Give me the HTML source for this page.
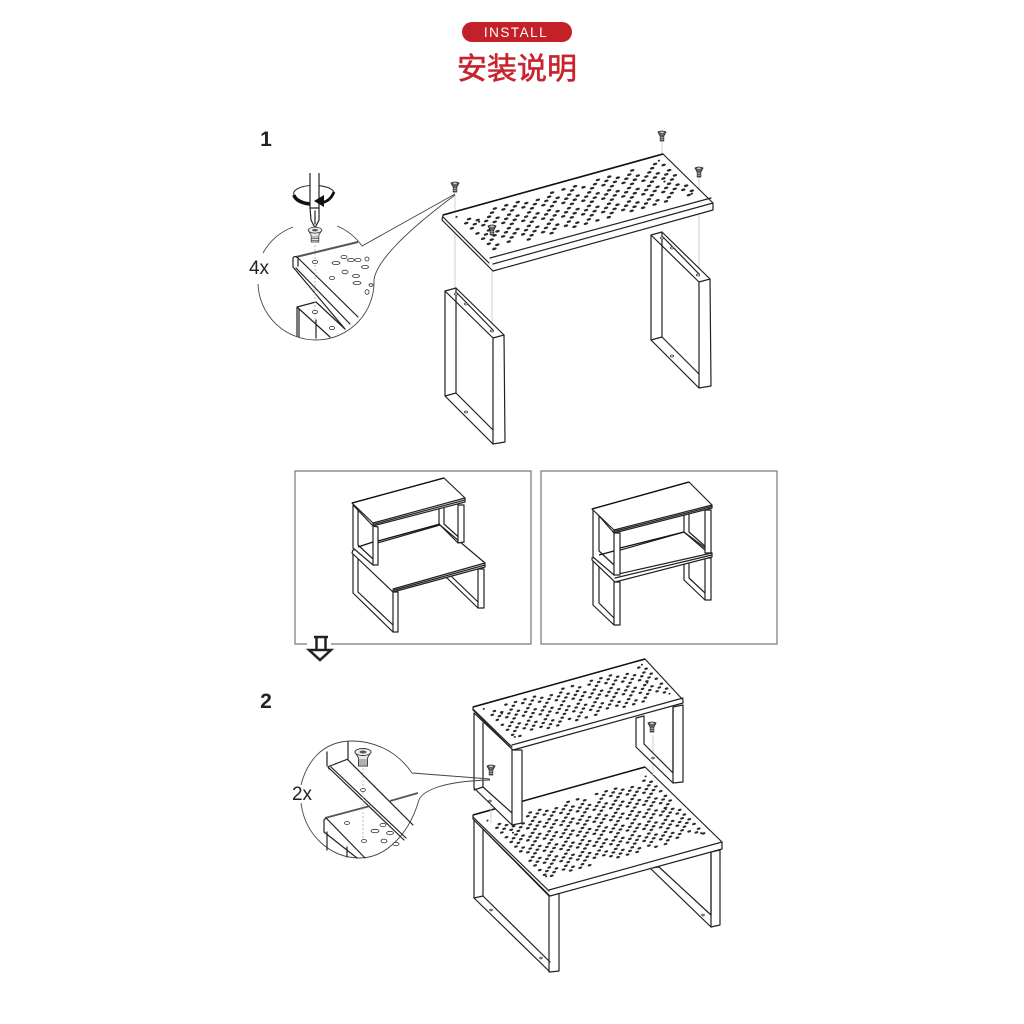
<!DOCTYPE html>
<html><head><meta charset="utf-8"><style>
html,body{margin:0;padding:0;background:#fff}
svg{display:block}
text{font-family:"Liberation Sans","Noto Sans CJK SC",sans-serif}
.l{fill:none;stroke:#222;stroke-width:1.2;stroke-linejoin:round;stroke-linecap:round}
.f{fill:#fff;stroke:#222;stroke-width:1.2;stroke-linejoin:round}
.g{fill:none;stroke:#ccc;stroke-width:.9}
.c{fill:none;stroke:#444;stroke-width:.9}
.h{fill:#fff;stroke:#333;stroke-width:.8}
.d{fill:none;stroke:#aaa;stroke-width:.8;stroke-dasharray:2 2}
</style></head><body>
<svg xmlns="http://www.w3.org/2000/svg" width="1024" height="1024" viewBox="0 0 1024 1024">
<defs>
<g id="sc"><path d="M-4 -3 Q0 -5 4 -3 L1.8 1 L1.8 6 L-1.8 6 L-1.8 1 Z" fill="#666" stroke="#222" stroke-width=".8"/><path d="M-1.8 2.5H1.8M-1.8 4.5H1.8" stroke="#ccc" stroke-width=".6"/><ellipse cx="0" cy="-2.800" rx="1.800" ry=".7" fill="#ddd"/></g>
<g id="big"><path d="M-8 -1 L-4.500 5 V13 H4.500 V5 L8 -1Z" fill="#e8e8e8" stroke="#333" stroke-width=".9"/><ellipse cx="0" cy="-1" rx="8" ry="3.500" fill="#eee" stroke="#333" stroke-width=".9"/><ellipse cx="0" cy="-1" rx="3.500" ry="1.500" fill="#555"/><path d="M-4.500 7H4.500M-4.500 9H4.500M-4.500 11H4.500" stroke="#555" stroke-width=".8"/></g>
<g id="leg">
<path class="f" d="M445 291L456 288L504 335L505 442L493 444L445 396Z"/>
<path class="l" d="M456 288V393M445 396L456 393L493 430M493 338V444M445 291L493 338L504 335M457 293L493 330"/>
<ellipse class="h" cx="456" cy="294" rx="1.6" ry="1"/><ellipse class="h" cx="466" cy="304" rx="1.6" ry="1"/><ellipse class="h" cx="492" cy="331" rx="1.6" ry="1"/><ellipse class="h" cx="466" cy="412" rx="1.6" ry="1"/>
</g>
</defs>
<rect width="1024" height="1024" fill="#fff"/>

<rect x="462" y="22" width="110" height="20" rx="10" fill="#c4202a"/>
<text x="516" y="37" font-size="13.500" fill="#fff" text-anchor="middle" letter-spacing="1.500">INSTALL</text>
<text x="517" y="79" font-size="30" fill="#c8242d" stroke="#c8242d" stroke-width=".6" text-anchor="middle">安装说明</text>

<text x="266" y="146" font-size="21" font-weight="bold" fill="#222" text-anchor="middle">1</text>
<text x="266" y="708" font-size="21" font-weight="bold" fill="#222" text-anchor="middle">2</text>
<text x="259" y="274" font-size="19" fill="#222" text-anchor="middle">4x</text>
<text x="302" y="800" font-size="19" fill="#222" text-anchor="middle">2x</text>

<!-- Step 1 main -->
<path class="g" d="M455 195V291M492 235V338M662 142V156M699 178V280"/>
<use href="#leg"/>
<use href="#leg" transform="translate(206,-56)"/>
<path class="f" d="M443 215L663 154L713 203V210L493 271L488 266L442 220Z"/>
<path class="l" d="M493 264L713 203M490 258L711 198M443 217L489 263"/>
<path d="M443 215L663 154" stroke="#111" stroke-width="1.6" fill="none"/>
<g id="p1"></g>
<use href="#sc" x="455" y="186"/><use href="#sc" x="662" y="135"/><use href="#sc" x="699" y="171"/><use href="#sc" x="492" y="229"/>

<!-- Detail 1 -->
<path class="c" d="M293 227A58 58 0 0 0 263 253M258 284A56 56 0 0 0 374 280C376 262 405 232 455 195M337 226Q352 232 362 246L455 194"/>
<path d="M296 257L358 242" stroke="#555" stroke-width="2" fill="none"/>
<path class="l" d="M293 258Q295 255 298 258L358 317M293 258V267L345 329M298 258V266M296 268L350 324"/>
<path class="l" d="M297 307L316 302L345 329M297 307L330 337M297 307V336M299 309V337M316 320V338"/>
<path class="d" d="M315 245V325"/>
<g class="h"><ellipse cx="315" cy="262" rx="2.6" ry="1.6"/><ellipse cx="315" cy="312" rx="2.6" ry="1.6"/><ellipse cx="332" cy="328" rx="2.6" ry="1.6"/><ellipse cx="332" cy="278" rx="2.6" ry="1.6"/><ellipse cx="336" cy="263" rx="4" ry="1.6"/><ellipse cx="344" cy="257" rx="3" ry="1.6"/><ellipse cx="351" cy="260" rx="3.500" ry="1.6"/><ellipse cx="358" cy="260" rx="3" ry="1.600"/><ellipse cx="365" cy="267" rx="3.500" ry="1.600"/><ellipse cx="345" cy="272" rx="3" ry="1.800"/><ellipse cx="356" cy="276" rx="3.500" ry="1.600"/><ellipse cx="357" cy="283" rx="4" ry="1.600"/><ellipse cx="367" cy="259" rx="2" ry="2"/><ellipse cx="371" cy="285" rx="2" ry="1.300"/><ellipse cx="367" cy="292" rx="2" ry="2.300"/></g>
<!-- screwdriver -->
<path d="M294 195A20 8 0 0 1 334 192" fill="none" stroke="#333" stroke-width="1.100"/>
<path d="M294 195C295 200 303 204 312 204" fill="none" stroke="#111" stroke-width="3.500"/>
<path d="M310 173V208L311 220L315 228L319 220L319 208V173" fill="#fff" stroke="#222" stroke-width="1.200"/>
<path class="l" d="M315 211V224M311 208H319"/>
<path d="M320 203Q330 202 334 192" fill="none" stroke="#111" stroke-width="2.800"/>
<path d="M314 201L324 195V207Z" fill="#111"/>
<g transform="translate(315,231) scale(.85)"><use href="#big"/></g>

<!-- Frames -->
<path d="M307 644H295V471H531V644H331" fill="none" stroke="#777" stroke-width="1.2"/>
<rect x="541" y="471" width="236" height="173" fill="none" stroke="#777" stroke-width="1.2"/>
<path d="M314 637H328M316.500 637V650M325.500 637V650" stroke="#222" stroke-width="2.500" fill="none"/>
<path d="M309 650H331L320 660Z" fill="#fff" stroke="#222" stroke-width="2.500"/>

<!-- Scene A -->
<g>
<!-- lower unit -->
<path class="l" d="M447 578L478 608M452 577L478 602"/>
<path class="f" d="M478 569H484V608H478Z"/>
<path class="f" d="M353 552V593L393 632H398V592L393 592Z"/>
<path class="l" d="M358 558V592L393 625M393 592V632"/>
<path class="f" d="M353 550L440 525L485 563V567L393 592L352 553Z"/>
<path class="l" d="M393 589L485 563M393 590.500L485 565"/>
<!-- upper unit -->
<path class="l" d="M439 509V524L458 543M444 508V524L464 542"/>
<path class="f" d="M458 505H464V542L458 543Z"/>
<path class="f" d="M353 505V548L373 565H378V527L373 526Z"/>
<path class="l" d="M358 510V545L373 559M373 526V565"/>
<path d="M378 541L440 524M358 547L373 542" stroke="#111" stroke-width="1.300" fill="none"/>
<path class="f" d="M352 503L444 478L465 498V502L373 526V523Z"/>
<path class="l" d="M373 523L465 498M373 524.500L465 500"/>
<path d="M352 503L444 478" stroke="#111" stroke-width="1.300" fill="none"/>
</g>

<!-- Scene B -->
<g>
<!-- lower unit -->
<path class="l" d="M684 562V580L705 600M689 562V578L705 593"/>
<path class="f" d="M705 558H711V600H705Z"/>
<path class="f" d="M593 561V605L614 625H620V582H615Z"/>
<path class="l" d="M599 567V603L614 618M614 582V625"/>
<path class="f" d="M592 558L684 532L712 553V557L615 582L592 560Z"/>
<path class="l" d="M614 575L712 553M615 578L712 555"/>
<!-- upper unit -->
<path class="l" d="M684 515V532L705 550M689 514V532L706 547"/>
<path class="f" d="M705 510H711V553H705Z"/>
<path class="f" d="M593 509V557L614 575H620V533H614Z"/>
<path class="l" d="M599 515V551L614 565M614 533V575"/>
<path d="M620 548L684 532M599 555L614 551" stroke="#111" stroke-width="1.300" fill="none"/>
<path class="f" d="M592 509L689 482L712 505V508L614 533V530Z"/>
<path class="l" d="M614 530L712 505M614 531.500L712 506.500"/>
<path d="M592 509L689 482" stroke="#111" stroke-width="1.300" fill="none"/>
</g>

<!-- Step 2 main -->
<g>
<!-- lower unit -->
<path class="f" d="M650 868L711 927L720 925V850L711 852V915L659 867Z"/>
<path class="l" d="M711 852V927"/>
<path class="f" d="M474 820V898L550 972L559 971V893L549 896Z"/>
<path class="l" d="M483 828V896L550 962M549 895V972M474 898L483 896"/>
<path class="f" d="M473 815L645 767L722 842V849L550 896L473 819Z"/>
<path class="l" d="M549 890L722 842M473 817L549 891"/>
<path d="M473 815L645 767" stroke="#111" stroke-width="1.500" fill="none"/>
<g id="p3"></g>
<ellipse class="h" cx="491" cy="910" rx="1.300" ry=".9"/><ellipse class="h" cx="541" cy="958" rx="1.300" ry=".9"/><ellipse class="h" cx="703" cy="915" rx="1.300" ry=".9"/>
<!-- upper unit -->
<path class="g" d="M491 785V823M653 735V775"/>
<path class="f" d="M636 718L644 716V744L673 773V707L683 705V782L673 783L636 747Z"/>
<path class="l" d="M673 707V783"/>
<path class="f" d="M474 713V788L512 825L522 823V750L513 750L474 713Z"/>
<path class="l" d="M483 723V787L512 813M512 748V825M474 790L483 787"/>
<path class="f" d="M473 707L645 659L683 700V703L513 750L473 710Z"/>
<path class="l" d="M512 745L683 698M473 709L512 747"/>
<path d="M473 707L645 659" stroke="#111" stroke-width="1.500" fill="none"/>
<g id="p2"></g>
<ellipse class="h" cx="490" cy="801" rx="1.300" ry=".9"/><ellipse class="h" cx="653" cy="758" rx="1.300" ry=".9"/>
<use href="#sc" x="491" y="769"/><use href="#sc" x="652" y="726"/>
</g>

<!-- Detail 2 -->
<path class="c" d="M412 773C395 748 370 741 352 741C320 741 306 765 301 785M301 803C305 835 330 858 360 858C385 858 408 835 418 803C420 790 445 781 490 780M412 773L490 779"/>
<path class="l" d="M327 752V766M348 742V760M330 766L348 759M328 767L404 840M331 767L406 838M348 760L413 825M329 769Q328 766 330 766"/>
<path d="M325 818L370 806M390 801L418 793" stroke="#555" stroke-width="1.800" fill="none"/>
<path class="l" d="M324 820Q326 817 328 820L365 858M324 820V832L357 858M327 832V850M347 847V857"/>
<path class="d" d="M363 768V840"/>
<g class="h"><ellipse cx="363" cy="790" rx="2.500" ry="1.500"/><ellipse cx="347" cy="823" rx="2.500" ry="1.500"/><ellipse cx="364" cy="841" rx="2.500" ry="1.500"/><ellipse cx="375" cy="831" rx="4" ry="1.700"/><ellipse cx="383" cy="825" rx="3" ry="1.700"/><ellipse cx="390" cy="833" rx="3.500" ry="1.700"/><ellipse cx="384" cy="841" rx="3" ry="1.900"/><ellipse cx="396" cy="844" rx="3" ry="1.700"/></g>
<g transform="translate(363,753)"><use href="#big"/></g>
</svg>
<script>
(function(){
var NS="http://www.w3.org/2000/svg";
function gen(id,A,B,D,cols,rows,rx,ry,k,corners){
 var g=document.getElementById(id);
 var ang=Math.atan2(B[1]-A[1],B[0]-A[0])*180/Math.PI;
 function add(u,v,a,b){
  var x=A[0]+u*(B[0]-A[0])+v*(D[0]-A[0]),y=A[1]+u*(B[1]-A[1])+v*(D[1]-A[1]);
  var e=document.createElementNS(NS,"ellipse");
  e.setAttribute("cx",x.toFixed(1));e.setAttribute("cy",y.toFixed(1));
  e.setAttribute("rx",a);e.setAttribute("ry",b);e.setAttribute("fill","#2a2a2a");
  e.setAttribute("transform","rotate("+ang.toFixed(1)+" "+x.toFixed(1)+" "+y.toFixed(1)+")");
  g.appendChild(e);
 }
 for(var i=0;i<cols;i++)for(var j=0;j<rows;j++){
  if((i+j)%2)continue;
  var u=.05+.91*i/(cols-1),v=.14+.72*j/(rows-1);
  var tri=Math.abs(((u*k)%1)-.5)*2;
  if(Math.abs(v-.5)*2>.6+.5*tri)continue;
  if((i*3+j*5)%7==0)continue;
  add(u,v,rx,ry);
 }
 corners.forEach(function(c){add(c[0],c[1],ry,ry*.8);});
}
var cs=[[.04,.1],[.96,.1],[.05,.85],[.95,.85],[.1,.3],[.9,.5]];
gen("p1",[443,215],[663,154],[490,258],36,13,2.300,1.200,4,cs);
gen("p2",[473,707],[645,659],[512,745],34,12,1.900,1.100,4,cs);
gen("p3",[473,815],[645,767],[549,890],34,24,2,1.100,4,cs);
})();
</script>
</body></html>
